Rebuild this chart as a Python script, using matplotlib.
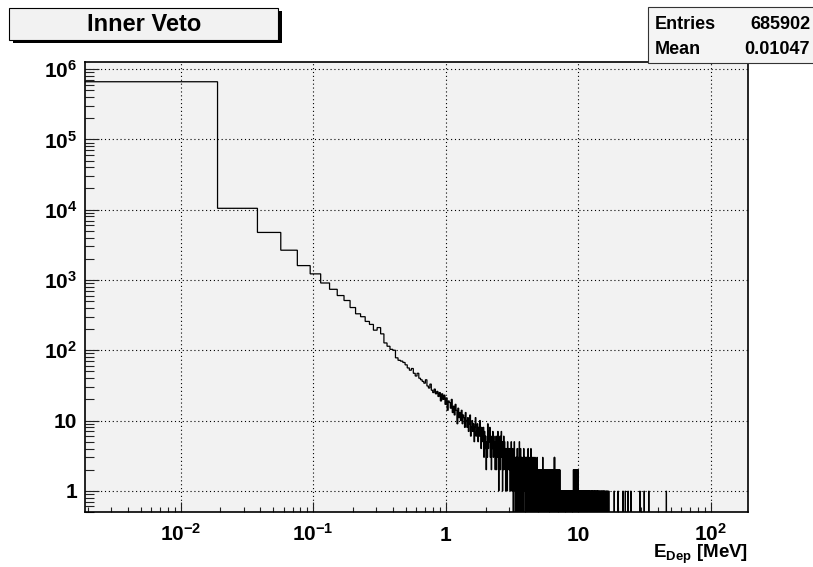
import numpy as np
import matplotlib
matplotlib.use('Agg')
import matplotlib.pyplot as plt
from matplotlib.patches import Rectangle
from matplotlib.ticker import LogLocator, NullFormatter

plt.rcParams['font.family'] = ['Liberation Sans', 'DejaVu Sans']
plt.rcParams['font.weight'] = 'bold'
plt.rcParams['mathtext.fontset'] = 'custom'
plt.rcParams['mathtext.rm'] = 'Liberation Sans:bold'
plt.rcParams['mathtext.bf'] = 'Liberation Sans:bold'
plt.rcParams['mathtext.it'] = 'Liberation Sans:bold'

'''Histogram data (bin width 0.019 MeV, 10000 bins)'''
bin_width = 0.019
n_bins = 10000
# bins 0..99
low_counts = [660000, 10450, 4740, 2650, 1600, 1220, 905, 736, 600, 510,
              405, 330, 300, 257, 233, 193, 210, 171, 127, 114,
              103, 100, 78, 72, 70, 67, 62, 56, 52, 55,
              47, 43, 47, 40, 38, 36, 34, 38, 31, 29,
              33, 27, 25, 28, 24, 26, 22, 25, 19, 24,
              20, 23, 17, 21, 14, 19, 18, 15, 20, 13,
              16, 12, 17, 14, 9, 15, 11, 13, 10, 14,
              9, 12, 11, 8, 13, 10, 8, 11, 7, 9,
              12, 6, 8, 10, 7, 9, 5, 8, 11, 6,
              7, 9, 5, 8, 6, 10, 7, 4, 8, 6]
# bins from 100 on, one digit per bin, 25 bins per row
mid_rows = ["5837462539475836254736452",
            "4625374153624735142635241",
            "3241523422413251314203152",
            "2031302413021450314023120",
            "1302413120310231302140201",
            "2031204130120312023102130",
            "1202120312012021202120120",
            "0212012103120120212012102",
            "1201201210212012012102120",
            "0212012102120120210120303",
            "1020120102012010210201201",
            "0102010201001011010010110",
            "0101101001011010010110100",
            "1001010110010100110100101",
            "0110010010110010100101001",
            "1010010012010201201012010",
            "2010210201201020120102012",
            "1001000101100100010010100",
            "0100100010010001010010001",
            "0010100100010000100100010",
            "1000100010000101000100100",
            "0100010001001000010001000",
            "1000000100010010000100010",
            "0010001000000100010000100",
            "0100000010001000010000001",
            "0000100010000100000010000",
            "1000001000000010000100000",
            "0010000000100000100000010",
            "0000010000001000000100000",
            "1000000010000000100000000",
            "0001000000000100000001000",
            "0000000100000000000010000"]
# single entries in the far tail [MeV]
tail_energies = [18.7, 20.0, 21.8, 22.7, 23.8, 25.0, 29.2, 31.5, 34.1, 46.3]

entries = 685902
mean = 0.01047

x_ticks = [0.01, 0.1, 1, 10, 100]
x_labels = [r'$10^{-2}$', r'$10^{-1}$', '1', '10', r'$10^{2}$']
y_ticks = [1, 10, 1e2, 1e3, 1e4, 1e5, 1e6]
y_labels = ['1', '10', r'$10^{2}$', r'$10^{3}$', r'$10^{4}$', r'$10^{5}$', r'$10^{6}$']

'''Fill histogram'''
counts = np.zeros(n_bins)
counts[:len(low_counts)] = low_counts
k = len(low_counts)
for r in mid_rows:
    counts[k:k + len(r)] = [int(c) for c in r]
    k += len(r)
for e in tail_energies:
    counts[int(e / bin_width)] += 1
edges = np.arange(n_bins + 1) * bin_width

'''Plot'''
W, H = 813, 567
fig = plt.figure(figsize=(W / 100, H / 100), dpi=100)
fig.patch.set_facecolor('white')
ax = fig.add_axes([85 / W, (H - 512) / H, 662.7 / W, 450 / H])
ax.set_facecolor('#f2f2f2')
ax.set_xscale('log')
ax.set_yscale('log')
ax.stairs(counts, edges, baseline=None, color='black', linewidth=0.9)
ax.set_xlim(0.0019, 190)
ax.set_ylim(0.5, 1.26e6)

ax.set_axisbelow(True)
ax.grid(True, which='major', color='black', linestyle=(0, (1, 2.5)), linewidth=0.8)

ax.set_xticks(x_ticks, x_labels)
ax.set_yticks(y_ticks, y_labels)
ax.xaxis.set_minor_locator(LogLocator(base=10, subs=range(2, 10), numticks=30))
ax.yaxis.set_minor_locator(LogLocator(base=10, subs=range(2, 10), numticks=30))
ax.xaxis.set_minor_formatter(NullFormatter())
ax.yaxis.set_minor_formatter(NullFormatter())
ax.tick_params(which='both', direction='in', top=False, right=False, color='#222222', width=0.8)
ax.tick_params(axis='x', which='major', length=7, pad=21, labelsize=15)
ax.tick_params(axis='x', which='minor', length=3.5)
ax.tick_params(axis='y', which='major', length=10, pad=5.5, labelsize=15)
ax.tick_params(axis='y', which='minor', length=6.5)
for lab in ax.get_xticklabels():
    lab.set_verticalalignment('baseline')
for s in ax.spines.values():
    s.set_linewidth(1.2)

fig.text(747.7 / W, (H - 558.5) / H, r'E$_{\mathrm{Dep}}$ [MeV]', ha='right', va='baseline',
         fontsize=13.5, fontweight='bold')

# title box with shadow
fig.add_artist(Rectangle((13.3 / W, (H - 43) / H), 269 / W, 32 / H, transform=fig.transFigure,
                         facecolor='black', edgecolor='none'))
fig.add_artist(Rectangle((9.3 / W, (H - 40) / H), 269 / W, 32 / H, transform=fig.transFigure,
                         facecolor='#f2f2f2', edgecolor='black', linewidth=0.8))
fig.text(143.7 / W, (H - 24.5) / H, 'Inner Veto', ha='center', va='center',
         fontsize=17, fontweight='bold')

# stats box
fig.add_artist(Rectangle((648 / W, (H - 62.5) / H), 170 / W, 55.5 / H, transform=fig.transFigure,
                         facecolor='#f4f4f4', edgecolor='#333333', linewidth=0.8))
fig.text(655 / W, (H - 24.5) / H, 'Entries', ha='left', va='center', fontsize=13, fontweight='bold')
fig.text(810 / W, (H - 24.5) / H, '%d' % entries, ha='right', va='center', fontsize=13, fontweight='bold')
fig.text(655 / W, (H - 50) / H, 'Mean', ha='left', va='center', fontsize=13, fontweight='bold')
fig.text(810 / W, (H - 50) / H, '%.5f' % mean, ha='right', va='center', fontsize=13, fontweight='bold')

fig.savefig('out.png', dpi=100)
